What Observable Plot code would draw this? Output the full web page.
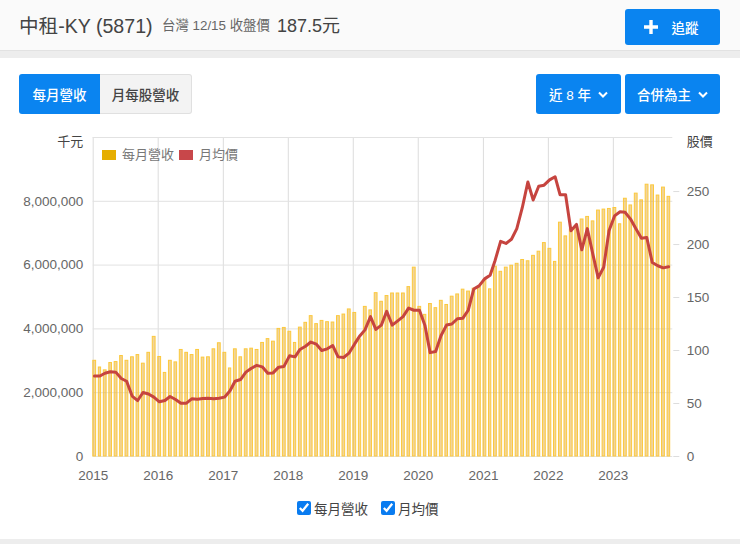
<!DOCTYPE html>
<html lang="zh-Hant">
<head>
<meta charset="utf-8">
<script src="https://cdn.jsdelivr.net/npm/d3@7"></script>
<script src="https://cdn.jsdelivr.net/npm/@observablehq/plot@0.6"></script>
<style>
  html,body{margin:0;padding:0;background:#fff;}
  body{width:740px;height:544px;position:relative;overflow:hidden;font-family:"Liberation Sans","Noto Sans CJK TC",sans-serif;color:#444;}
  .abs{position:absolute;white-space:nowrap;}
  .top{left:0;top:0;width:740px;height:50px;background:#fafafa;border-bottom:1px solid #e2e2e2;}
  .band{left:0;top:51px;width:740px;height:7px;background:#ededed;}
  .bottom{left:0;top:539px;width:740px;height:5px;background:#ededed;}
  .btn{display:flex;align-items:center;justify-content:center;box-sizing:border-box;background:#0a84f0;color:#fff;border-radius:3px;font-size:13.5px;font-weight:500;gap:7px;}
  .gray{background:#f3f3f3;color:#444;border:1px solid #e0e0e0;border-left:none;border-radius:0 3px 3px 0;}
  #chart{position:absolute;left:0;top:120px;}
  #chart svg{font-family:"Liberation Sans","Noto Sans CJK TC",sans-serif;}
  .lg{font-size:13px;color:#777;}
  .sw{width:14px;height:10px;}
  .chk{display:flex;align-items:center;gap:3px;font-size:13.5px;color:#444;}
  .chk input{margin:0;width:14px;height:14px;accent-color:#0a7cf0;}
</style>
</head>
<body>
<div class="abs top"></div>
<div class="abs band"></div>
<div class="abs bottom"></div>
<div class="abs" style="left:19px;top:13px;font-size:19.6px;line-height:26px;color:#444;">中租-KY (5871)</div>
<div class="abs" style="left:162px;top:16px;font-size:13.4px;line-height:20px;color:#666;">台灣 12/15 收盤價</div>
<div class="abs" style="left:277px;top:13px;font-size:18px;line-height:26px;color:#444;">187.5元</div>
<div class="abs btn" style="left:625px;top:9px;width:95px;height:36px;gap:14px;padding-right:3px;">
  <svg width="14" height="14" viewBox="0 0 14 14"><path d="M7 0V14M0 7H14" stroke="#fff" stroke-width="3.4"/></svg><span>追蹤</span>
</div>
<div class="abs btn" style="left:19px;top:74px;width:81px;height:40px;border-radius:3px 0 0 3px;">每月營收</div>
<div class="abs btn gray" style="left:100px;top:74px;width:92px;height:40px;">月每股營收</div>
<div class="abs btn" style="left:536px;top:74px;width:85px;height:40px;">
  <span>近 8 年</span><svg width="10" height="7" viewBox="0 0 10 7"><path d="M1 1.5L5 5.5L9 1.5" fill="none" stroke="#fff" stroke-width="2"/></svg>
</div>
<div class="abs btn" style="left:625px;top:74px;width:95px;height:40px;">
  <span>合併為主</span><svg width="10" height="7" viewBox="0 0 10 7"><path d="M1 1.5L5 5.5L9 1.5" fill="none" stroke="#fff" stroke-width="2"/></svg>
</div>
<div id="chart"></div>
<div class="abs lg" style="left:102px;top:146px;display:flex;align-items:center;gap:6px;line-height:18px;">
  <span class="sw" style="background:#e6ae00;"></span><span>每月營收</span>
  <span class="sw" style="background:#c8474a;margin-left:-1px;"></span><span>月均價</span>
</div>
<div class="abs" style="left:297px;top:498px;display:flex;gap:13px;">
  <label class="chk"><input type="checkbox" checked>每月營收</label>
  <label class="chk"><input type="checkbox" checked>月均價</label>
</div>
<script>
const revenue = [
  3000000,2790000,2700000,2930000,2960000,3150000,3000000,3110000,3180000,2910000,3250000,3750000,
  3120000,2620000,3000000,2950000,3340000,3250000,3180000,3340000,3100000,3110000,3360000,3550000,
  3250000,2760000,3360000,3110000,3360000,3380000,3340000,3560000,3680000,3600000,4000000,4030000,
  3910000,3560000,4040000,4190000,4400000,4150000,4250000,4210000,4200000,4400000,4450000,4610000,
  4500000,3670000,4690000,4580000,5120000,4850000,5030000,5110000,5110000,5110000,5310000,5920000,
  4690000,4440000,4780000,4650000,4880000,4750000,5010000,5080000,5230000,5170000,5260000,5310000,
  5540000,5240000,5950000,5790000,5920000,5980000,6040000,6160000,6120000,6290000,6420000,6690000,
  6510000,6100000,7330000,6900000,7120000,7190000,7430000,7510000,7370000,7710000,7740000,7760000,
  7790000,7280000,8080000,7870000,8240000,8030000,8520000,8500000,8180000,8430000,8140000
];
const price = [
  76,76,78.6,80,79.6,73.6,71,57,52.8,60.4,59,56,
  51.6,52.8,56.6,53.8,50.3,50.3,54.4,54,54.7,55,54.4,55,
  56,62,71,72.6,79.6,83.3,86,84.6,78.6,78.9,84.3,85,
  95,94,101,104,108,106,100,101.6,104.7,94,93.4,97.5,
  106,114,119.5,132,120,124,137,124,128,132,140,138,
  138,123.6,98,99,114,124,125,130,130.5,138,158,161,
  167.6,171,185,203,201,205,215,235,259,242,255,256,
  261,264,247,247,213,219,195,215,191,168.6,178.6,213,
  227,231,230.5,224,215,206,206.6,183,180,178,179
];
const yearTicks = [2015,2016,2017,2018,2019,2020,2021,2022,2023];
const revenueTicks = [0,2000000,4000000,6000000,8000000];
const priceTicks = [0,50,100,150,200,250];
const priceToRevenue = 10000000 / 301;

const months = revenue.map((_, i) => new Date(Date.UTC(2015, i, 1)));
const rows = revenue.map((v, i) => ({date: months[i], revenue: v, price: price[i]}));
const yearDates = yearTicks.map(y => new Date(Date.UTC(y, 0, 1)));

const plot = Plot.plot({
  width: 740,
  height: 370,
  marginLeft: 92.7,
  marginRight: 67.7,
  marginTop: 17,
  marginBottom: 34,
  style: {background: "transparent", fontSize: "13.5px", color: "#666"},
  x: {type: "utc", domain: [new Date(Date.UTC(2015,0,1)), new Date(Date.UTC(2023,11,1))]},
  y: {domain: [0, 10000000]},
  marks: [
    Plot.gridX(yearDates, {x: d => d, stroke: "#dcdcdc", strokeOpacity: 1}),
    Plot.gridY([...revenueTicks, 10000000], {y: d => d, stroke: "#e2e2e2", strokeOpacity: 1}),
    Plot.rectY(rows, {
      x: "date", interval: "month", y: "revenue",
      fill: "#dfa020", fillOpacity: 0.45, stroke: "#fcc93c", strokeWidth: 1,
      insetLeft: 0.1, insetRight: 2.6
    }),
    Plot.line(rows, {x: "date", y: d => d.price * priceToRevenue, stroke: "#c6443f", strokeWidth: 3, dx: 1.2, curve: "linear"}),
    Plot.axisX(yearDates, {x: d => d, tickSize: 0, tickPadding: 14, tickFormat: d3.utcFormat("%Y"), label: null, color: "#666"}),
    Plot.axisY(revenueTicks, {y: d => d, tickSize: 0, tickPadding: 10, tickFormat: d3.format(","), label: null, color: "#666"}),
    Plot.axisY(priceTicks, {y: d => d * priceToRevenue, anchor: "right", tickSize: 6, tickPadding: 8, tickFormat: d => String(d), label: null, color: "#666", stroke: "#ddd"}),
    Plot.text(["千元"], {x: () => new Date(Date.UTC(2015,0,1)), y: () => 10000000, dx: -10, dy: 4, textAnchor: "end", fontSize: 13, fill: "#444"}),
    Plot.text(["股價"], {x: () => new Date(Date.UTC(2023,11,1)), y: () => 10000000, dx: 14, dy: 4, textAnchor: "start", fontSize: 13, fill: "#444"})
  ]
});
document.getElementById("chart").appendChild(plot);
</script>
</body>
</html>
